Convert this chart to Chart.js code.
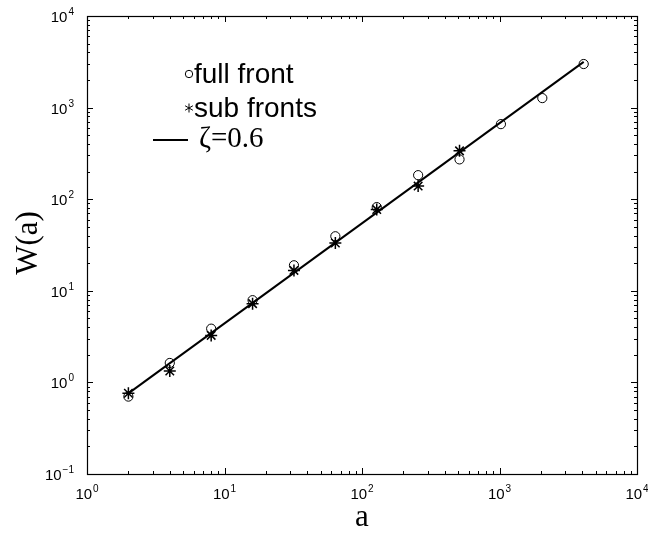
<!DOCTYPE html>
<html>
<head>
<meta charset="utf-8">
<script src="https://cdn.jsdelivr.net/npm/chart.js@4"></script>
<style>
  body { margin: 0; background: #fff; }
  #wrap { width: 648px; height: 533px; }
</style>
</head>
<body>
<div id="wrap"><canvas id="chart"></canvas></div>
<script>
    // sizes a = 2^n and the measured widths W(a)
    const sizes = [2, 4, 8, 16, 32, 64, 128, 256, 512, 1024, 2048, 4096];
    const fullFront = [0.70, 1.63, 3.86, 7.9, 19.0, 39.4, 82, 183, 272, 660, 1270, 2990];
    const subSizes = [2, 4, 8, 16, 32, 64, 128, 256, 512];
    const subFronts = [0.76, 1.33, 3.26, 7.24, 16.7, 33.3, 77, 139, 337];
    // ends of the fitted line
    const fitSizes = [2, 4096];
    const fitValues = [0.76, 3160];

    const xExponents = [0, 1, 2, 3, 4];
    const yExponents = [-1, 0, 1, 2, 3, 4];
    const legendLabels = ['full front', 'sub fronts', '\u03B6=0.6'];
    const xTitle = 'a';
    const yTitle = 'W(a)';

    const sansFont = "'Liberation Sans', Arial, Helvetica, sans-serif";
    const serifFont = "'Liberation Serif', 'Times New Roman', serif";

    function toPoints(xs, ys) {
        return xs.map((x, i) => ({ x: x, y: ys[i] }));
    }

    function powLabel(ctx, exp, x, y, align) {
        // draws "10" with a small raised exponent
        ctx.font = '15px ' + sansFont;
        const base = '10';
        const bw = ctx.measureText(base).width;
        ctx.font = '10px ' + sansFont;
        const sup = String(exp).replace('-', '\u2212');
        const sw = ctx.measureText(sup).width;
        const total = bw + sw + 1;
        let left = x;
        if (align === 'center') left = x - total / 2;
        if (align === 'right') left = x - total;
        ctx.textAlign = 'left';
        ctx.textBaseline = 'alphabetic';
        ctx.font = '15px ' + sansFont;
        ctx.fillText(base, left, y);
        ctx.font = '10px ' + sansFont;
        ctx.fillText(sup, left + bw + 1, y - 7);
    }

    const framePlugin = {
        id: 'frame',
        afterDraw(chart) {
            const ctx = chart.ctx;
            const area = chart.chartArea;
            const xs = chart.scales.x;
            const ys = chart.scales.y;
            ctx.save();
            ctx.strokeStyle = '#000';
            ctx.fillStyle = '#000';
            ctx.lineWidth = 1.2;
            ctx.strokeRect(Math.round(area.left) + 0.5, Math.round(area.top) + 0.5,
                Math.round(area.right - area.left), Math.round(area.bottom - area.top));

            // x ticks, inside on bottom and top
            ctx.lineWidth = 1;
            ctx.beginPath();
            for (let e = xExponents[0]; e <= xExponents[xExponents.length - 1]; e++) {
                for (let m = 1; m <= 9; m++) {
                    const v = m * Math.pow(10, e);
                    if (v > xs.max) break;
                    const px = Math.round(xs.getPixelForValue(v)) + 0.5;
                    const len = m === 1 ? 6 : 3;
                    ctx.moveTo(px, area.bottom);
                    ctx.lineTo(px, area.bottom - len);
                    ctx.moveTo(px, area.top);
                    ctx.lineTo(px, area.top + len);
                }
            }
            // y ticks, inside on left and right
            for (let e = yExponents[0]; e <= yExponents[yExponents.length - 1]; e++) {
                for (let m = 1; m <= 9; m++) {
                    const v = m * Math.pow(10, e);
                    if (v > ys.max * 1.0001) break;
                    const py = Math.round(ys.getPixelForValue(v)) + 0.5;
                    const len = m === 1 ? 6 : 3;
                    ctx.moveTo(area.left, py);
                    ctx.lineTo(area.left + len, py);
                    ctx.moveTo(area.right, py);
                    ctx.lineTo(area.right - len, py);
                }
            }
            ctx.stroke();

            // tick labels
            xExponents.forEach(e => {
                powLabel(ctx, e, xs.getPixelForValue(Math.pow(10, e)), area.bottom + 25, 'center');
            });
            yExponents.forEach(e => {
                powLabel(ctx, e, area.left - 13, ys.getPixelForValue(Math.pow(10, e)) + 6, 'right');
            });

            // axis titles
            ctx.font = '31px ' + serifFont;
            ctx.textAlign = 'center';
            ctx.textBaseline = 'alphabetic';
            ctx.fillText(xTitle, (area.left + area.right) / 2, area.bottom + 52);
            ctx.save();
            ctx.translate(37, (area.top + area.bottom) / 2 - 2);
            ctx.rotate(-Math.PI / 2);
            ctx.fillText(yTitle, 0, 0);
            ctx.restore();

            // legend
            ctx.textAlign = 'left';
            ctx.font = '28px ' + sansFont;
            ctx.beginPath();
            ctx.arc(189, 74, 3.7, 0, Math.PI * 2);
            ctx.stroke();
            ctx.fillText(legendLabels[0], 194, 83);

            ctx.beginPath();
            const r = 4.5;
            for (let k = 0; k < 3; k++) {
                const a = Math.PI / 2 + k * Math.PI / 3;
                ctx.moveTo(189 - r * Math.cos(a), 108 - r * Math.sin(a));
                ctx.lineTo(189 + r * Math.cos(a), 108 + r * Math.sin(a));
            }
            ctx.stroke();
            ctx.fillText(legendLabels[1], 194, 117);

            ctx.beginPath();
            ctx.lineWidth = 2;
            ctx.moveTo(153, 140);
            ctx.lineTo(188, 140);
            ctx.stroke();
            ctx.font = '29px ' + serifFont;
            ctx.fillText(legendLabels[2], 199, 147);
            ctx.restore();
        }
    };

    const ctx = document.getElementById('chart').getContext('2d');
    const chart = new Chart(ctx, {
        type: 'scatter',
        data: {
            datasets: [
                {
                    label: legendLabels[2],
                    data: toPoints(fitSizes, fitValues),
                    showLine: true,
                    borderColor: '#000',
                    borderWidth: 2,
                    pointRadius: 0,
                    order: 3
                },
                {
                    label: legendLabels[0],
                    data: toPoints(sizes, fullFront),
                    pointStyle: 'circle',
                    pointRadius: 4.6,
                    borderColor: '#000',
                    backgroundColor: 'rgba(0,0,0,0)',
                    borderWidth: 1,
                    order: 2
                },
                {
                    label: legendLabels[1],
                    data: toPoints(subSizes, subFronts),
                    pointStyle: 'star',
                    pointRadius: 6,
                    borderColor: '#000',
                    backgroundColor: '#000',
                    borderWidth: 1.5,
                    order: 1
                }
            ]
        },
        options: {
            responsive: true,
            maintainAspectRatio: false,
            animation: false,
            layout: {
                padding: { left: 87, right: 11, top: 16, bottom: 59 }
            },
            plugins: {
                legend: { display: false },
                tooltip: { enabled: false }
            },
            scales: {
                x: { type: 'logarithmic', min: 1, max: 10000, display: false },
                y: { type: 'logarithmic', min: 0.1, max: 10000, display: false }
            }
        },
        plugins: [framePlugin]
    });
</script>
</body>
</html>
